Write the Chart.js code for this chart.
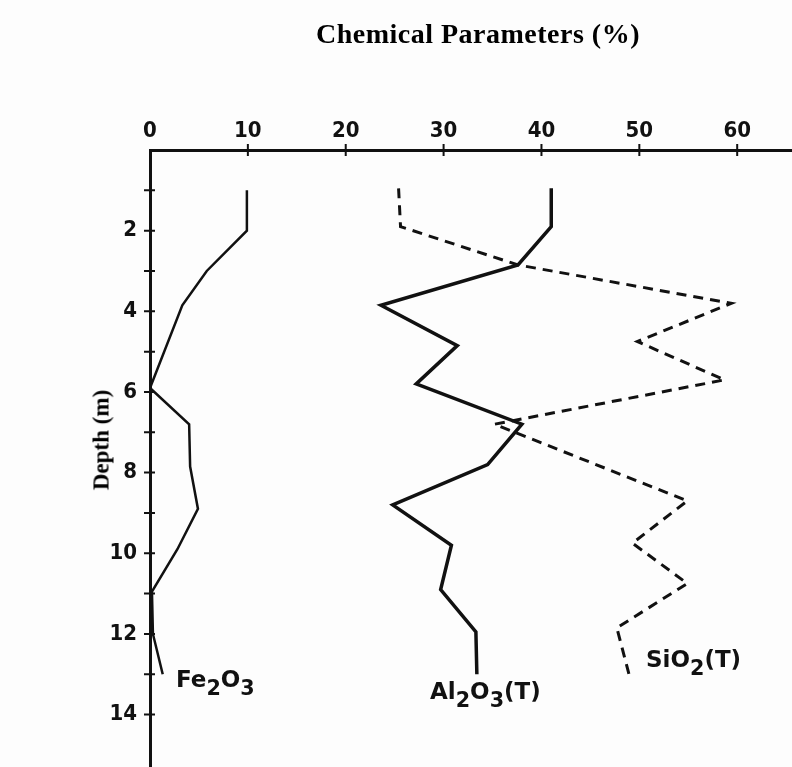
<!DOCTYPE html>
<html>
<head>
<meta charset="utf-8">
<title>Chemical Parameters (%)</title>
<script src="https://cdn.jsdelivr.net/npm/chart.js@4/dist/chart.umd.min.js"></script>
<style>
    html, body { margin: 0; padding: 0; background: #fdfdfd; }
    #wrap { position: relative; width: 792px; height: 767px; overflow: hidden; }
    #chart { position: absolute; left: 0; top: 0; }
    .title {
        position: absolute; white-space: nowrap; line-height: 1;
        font-family: "Liberation Serif", "Times New Roman", serif; font-weight: bold; color: #000;
    }
    .series {
        position: absolute; white-space: nowrap; line-height: 1;
        font-family: "DejaVu Sans", sans-serif; font-weight: bold; font-size: 23px; color: #111;
    }
    .series sub { font-size: 0.9em; vertical-align: -0.38em; line-height: 0; }
</style>
</head>
<body>
<div id="wrap">
    <canvas id="chart" width="792" height="767"></canvas>
    <div class="title" id="xTitle" style="left:478px; top:20px; font-size:28px; letter-spacing:0.5px; transform:translateX(-50%);">Chemical Parameters (%)</div>
    <div class="title" id="yTitle" style="left:101px; top:440px; font-size:23px; transform:translate(-50%,-50%) rotate(-90deg);">Depth (m)</div>
    <div class="series" style="left:176px; top:668px;">Fe<sub>2</sub>O<sub>3</sub></div>
    <div class="series" style="left:430px; top:680px;">Al<sub>2</sub>O<sub>3</sub>(T)</div>
    <div class="series" style="left:646px; top:648px;">SiO<sub>2</sub>(T)</div>
</div>
<script>
// Depth (m) and percentage values
const depthFe = [1.0, 2.0, 3.0, 3.85, 5.9, 6.8, 7.85, 8.9, 9.9, 10.95, 12.0, 13.0];
const fe2o3 = [9.9, 9.9, 5.8, 3.3, 0.0, 4.0, 4.1, 4.9, 2.8, 0.2, 0.3, 1.3];

const depthAl = [0.95, 1.9, 2.85, 3.85, 4.85, 5.8, 6.8, 7.8, 8.8, 9.8, 10.9, 11.95, 13.0];
const al2o3 = [41.0, 41.0, 37.6, 23.6, 31.4, 27.2, 38.0, 34.5, 24.8, 30.8, 29.7, 33.3, 33.4];

const depthSi = [0.95, 1.9, 2.85, 3.8, 4.75, 5.7, 6.8, 8.7, 9.75, 10.75, 11.85, 13.05];
const sio2 = [25.4, 25.6, 37.6, 59.4, 49.8, 58.7, 35.2, 54.9, 49.3, 54.9, 47.7, 49.0];

const xTickValues = [0, 10, 20, 30, 40, 50, 60];
const yLabelValues = [2, 4, 6, 8, 10, 12, 14];

const ink = '#111';
const tickFont = { family: 'DejaVu Sans Condensed', weight: 'bold', size: 22 };

function toPoints(xs, ys) {
    return xs.map((v, i) => ({ x: v, y: ys[i] }));
}

// short marks that cross the axis lines, like the hand drawn original
const crossTicks = {
    id: 'crossTicks',
    afterDraw(chart) {
        const { ctx, chartArea, scales } = chart;
        ctx.save();
        ctx.strokeStyle = ink;
        ctx.lineWidth = 2;
        ctx.beginPath();
        scales.x.ticks.forEach(t => {
            if (t.value === 0) return;
            const px = scales.x.getPixelForValue(t.value);
            ctx.moveTo(px, chartArea.top - 6);
            ctx.lineTo(px, chartArea.top + 6);
        });
        scales.y.ticks.forEach(t => {
            if (t.value === 0) return;
            const py = scales.y.getPixelForValue(t.value);
            ctx.moveTo(chartArea.left - 6, py);
            ctx.lineTo(chartArea.left + 5, py);
        });
        ctx.stroke();
        ctx.restore();
    }
};

// the axes fill the page edge to edge, so drop the label overhang padding
function noPadding(scale) {
    scale.paddingTop = 0;
    scale.paddingBottom = 0;
    scale.paddingLeft = 0;
    scale.paddingRight = 0;
}

const ctx = document.getElementById('chart').getContext('2d');
new Chart(ctx, {
    type: 'scatter',
    data: {
        datasets: [{
            label: 'Fe2O3',
            data: toPoints(fe2o3, depthFe),
            borderColor: ink,
            borderWidth: 2.5
        }, {
            label: 'Al2O3(T)',
            data: toPoints(al2o3, depthAl),
            borderColor: ink,
            borderWidth: 3.5
        }, {
            label: 'SiO2(T)',
            data: toPoints(sio2, depthSi),
            borderColor: ink,
            borderWidth: 3,
            borderDash: [10, 7]
        }]
    },
    options: {
        responsive: false,
        animation: false,
        devicePixelRatio: 1,
        layout: { padding: 0, autoPadding: false },
        elements: {
            line: { tension: 0, fill: false, borderJoinStyle: 'miter' },
            point: { radius: 0, hoverRadius: 0 }
        },
        datasets: { scatter: { showLine: true } },
        plugins: {
            legend: { display: false },
            tooltip: { enabled: false }
        },
        scales: {
            x: {
                type: 'linear',
                position: 'top',
                min: 0,
                max: 65.6,
                afterBuildTicks: scale => { scale.ticks = xTickValues.map(v => ({ value: v })); },
                afterFit: scale => { scale.height = 150; noPadding(scale); },
                ticks: { color: ink, font: tickFont, padding: 6, maxRotation: 0 },
                grid: { drawOnChartArea: false, drawTicks: false },
                border: { display: true, color: ink, width: 3 }
            },
            y: {
                type: 'linear',
                reverse: true,
                min: 0,
                max: 15.3,
                afterBuildTicks: scale => {
                    scale.ticks = [];
                    for (let d = 0; d <= 14; d++) scale.ticks.push({ value: d });
                },
                afterFit: scale => { scale.width = 150; noPadding(scale); },
                ticks: {
                    color: ink,
                    font: tickFont,
                    padding: 13,
                    callback: v => yLabelValues.includes(v) ? String(v) : ''
                },
                grid: { drawOnChartArea: false, drawTicks: false },
                border: { display: true, color: ink, width: 3 }
            }
        }
    },
    plugins: [crossTicks]
});
</script>
</body>
</html>
